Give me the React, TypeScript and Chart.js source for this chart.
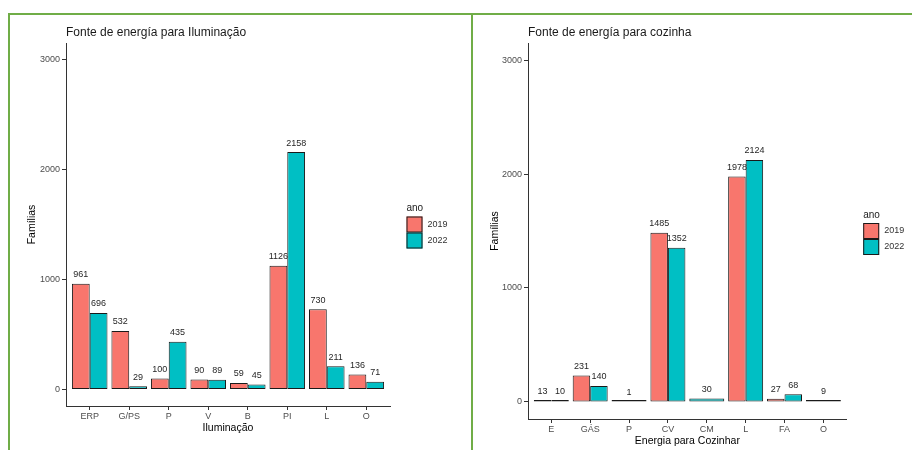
import React, { useEffect, useRef } from "react";
import { Chart, registerables } from "chart.js";

Chart.register(...registerables);

const FONT = '"Liberation Sans", Arial, sans-serif';

// ---- Data: Iluminação ----
const luzCategories = ["ERP", "G/PS", "P", "V", "B", "PI", "L", "O"];
const luz2019: (number | null)[] = [961, 532, 100, 90, 59, 1126, 730, 136];
const luz2022: (number | null)[] = [696, 29, 435, 89, 45, 2158, 211, 71];

// ---- Data: Cozinha ----
const cozCategories = ["E", "GÁS", "P", "CV", "CM", "L", "FA", "O"];
const coz2019: (number | null)[] = [13, 231, 1, 1485, null, 1978, 27, null];
const coz2022: (number | null)[] = [10, 140, null, 1352, 30, 2124, 68, 9];

const yTicks = [0, 1000, 2000, 3000];
const seriesNames = ["2019", "2022"];
const seriesColors = ["#F8766D", "#00BFC4"];

const valueLabels = {
  id: "valueLabels",
  afterDatasetsDraw(chart: any) {
    const ctx = chart.ctx;
    const yScale = chart.scales.y;
    ctx.save();
    ctx.font = `9px ${FONT}`;
    ctx.fillStyle = "#262626";
    ctx.textAlign = "center";
    ctx.textBaseline = "middle";
    chart.data.datasets.forEach((ds: any, di: number) => {
      const meta = chart.getDatasetMeta(di);
      meta.data.forEach((el: any, i: number) => {
        const pt = ds.data[i];
        if (!pt || pt.y == null) return;
        const yTop = yScale.getPixelForValue(pt.y);
        ctx.fillText(String(pt.y), el.x, yTop - 9);
      });
    });
    ctx.restore();
  },
};

const anoLegend = {
  id: "anoLegend",
  afterDraw(chart: any) {
    const ctx = chart.ctx;
    const area = chart.chartArea;
    const x0 = area.right + 16.5;
    const mid = (area.top + area.bottom) / 2 + 8;
    const key = 16;
    ctx.save();
    ctx.font = `10px ${FONT}`;
    ctx.fillStyle = "#1a1a1a";
    ctx.textAlign = "left";
    ctx.textBaseline = "middle";
    ctx.fillText("ano", x0, mid - key - 8);
    ctx.font = `9px ${FONT}`;
    seriesNames.forEach((name, i) => {
      const top = mid - key + i * key;
      ctx.fillStyle = seriesColors[i];
      ctx.fillRect(x0, top, key, key);
      ctx.strokeStyle = "#1a1a1a";
      ctx.lineWidth = 1;
      ctx.strokeRect(x0 + 0.5, top + 0.5, key - 1, key - 1);
      ctx.fillStyle = "#333333";
      ctx.fillText(name, x0 + key + 5, top + key / 2);
    });
    ctx.restore();
  },
};

function makeConfig(
  categories: string[],
  v19: (number | null)[],
  v22: (number | null)[],
  title: string,
  xTitle: string,
  padRight: number,
  padBottom: number,
  yWidth: number
): any {
  const toPts = (arr: (number | null)[]) => arr.map((v, i) => ({ x: i + 1, y: v }));
  const mkDs = (label: string, arr: (number | null)[], color: string) => ({
    label,
    data: toPts(arr),
    backgroundColor: color,
    borderColor: "#1a1a1a",
    borderWidth: 1,
    borderSkipped: false,
    skipNull: true,
    minBarLength: 2,
    categoryPercentage: 0.9,
    barPercentage: 1,
  });
  const tickFont = { family: FONT, size: 9 };
  const titleFont = { family: FONT, size: 10.5 };
  return {
    type: "bar",
    data: {
      datasets: [
        mkDs(seriesNames[0], v19, seriesColors[0]),
        mkDs(seriesNames[1], v22, seriesColors[1]),
      ],
    },
    options: {
      responsive: false,
      animation: false,
      maintainAspectRatio: false,
      layout: { padding: { left: 0, top: 0, right: padRight, bottom: padBottom } },
      plugins: {
        legend: { display: false },
        tooltip: { enabled: false },
        title: {
          display: true,
          text: title,
          align: "start",
          fullSize: false,
          color: "#1a1a1a",
          font: { family: FONT, size: 12, weight: "normal" },
          padding: { top: 10.8, bottom: 2.8 },
        },
      },
      scales: {
        x: {
          type: "linear",
          position: "bottom",
          min: 0.4,
          max: 8.6,
          offset: false,
          afterBuildTicks: (scale: any) => {
            scale.ticks = categories.map((_, i) => ({ value: i + 1 }));
          },
          afterFit: (scale: any) => {
            scale.height = 31;
          },
          ticks: {
            autoSkip: false,
            maxRotation: 0,
            minRotation: 0,
            padding: 1,
            color: "#4D4D4D",
            font: tickFont,
            callback: (v: any) => categories[Math.round(v) - 1] ?? "",
          },
          grid: {
            display: true,
            offset: false,
            drawOnChartArea: false,
            drawTicks: true,
            tickLength: 4,
            color: "#333333",
          },
          border: { display: true, color: "#333333", width: 1 },
          title: {
            display: true,
            text: xTitle,
            color: "#000000",
            font: titleFont,
            padding: { top: 0, bottom: 2.7 },
          },
        },
        y: {
          type: "linear",
          position: "left",
          min: -150,
          max: 3150,
          afterBuildTicks: (scale: any) => {
            scale.ticks = yTicks.map((v) => ({ value: v }));
          },
          afterFit: (scale: any) => {
            scale.width = yWidth;
          },
          ticks: {
            padding: 2,
            color: "#4D4D4D",
            font: tickFont,
            callback: (v: any) => String(v),
          },
          grid: {
            display: true,
            offset: false,
            drawOnChartArea: false,
            drawTicks: true,
            tickLength: 4,
            color: "#333333",
          },
          border: { display: true, color: "#333333", width: 1 },
          title: {
            display: true,
            text: "Famílias",
            color: "#000000",
            font: titleFont,
            padding: { top: 15.7, bottom: 0 },
          },
        },
      },
    },
    plugins: [valueLabels, anoLegend],
  };
}

export default function App() {
  const leftRef = useRef<HTMLCanvasElement>(null);
  const rightRef = useRef<HTMLCanvasElement>(null);

  useEffect(() => {
    const c1 = new Chart(
      leftRef.current as HTMLCanvasElement,
      makeConfig(luzCategories, luz2019, luz2022, "Fonte de energía para Iluminação", "Iluminação", 81, 13, 56)
    );
    const c2 = new Chart(
      rightRef.current as HTMLCanvasElement,
      makeConfig(cozCategories, coz2019, coz2022, "Fonte de energía para cozinha", "Energia para Cozinhar", 65.3, 0, 55)
    );
    return () => {
      c1.destroy();
      c2.destroy();
    };
  }, []);

  return (
    <div
      style={{
        position: "absolute",
        left: 0,
        top: 0,
        width: 912,
        height: 450,
        overflow: "hidden",
        background: "#ffffff",
      }}
    >
      <div
        style={{
          position: "absolute",
          left: 8,
          top: 13,
          width: 930,
          height: 460,
          border: "2px solid #70AD47",
          boxSizing: "border-box",
        }}
      />
      <div
        style={{
          position: "absolute",
          left: 471,
          top: 13,
          width: 2,
          height: 460,
          background: "#70AD47",
        }}
      />
      <canvas
        ref={leftRef}
        width={461}
        height={435}
        style={{ position: "absolute", left: 10, top: 15, width: 461, height: 435 }}
      />
      <canvas
        ref={rightRef}
        width={439}
        height={435}
        style={{ position: "absolute", left: 473, top: 15, width: 439, height: 435 }}
      />
    </div>
  );
}
